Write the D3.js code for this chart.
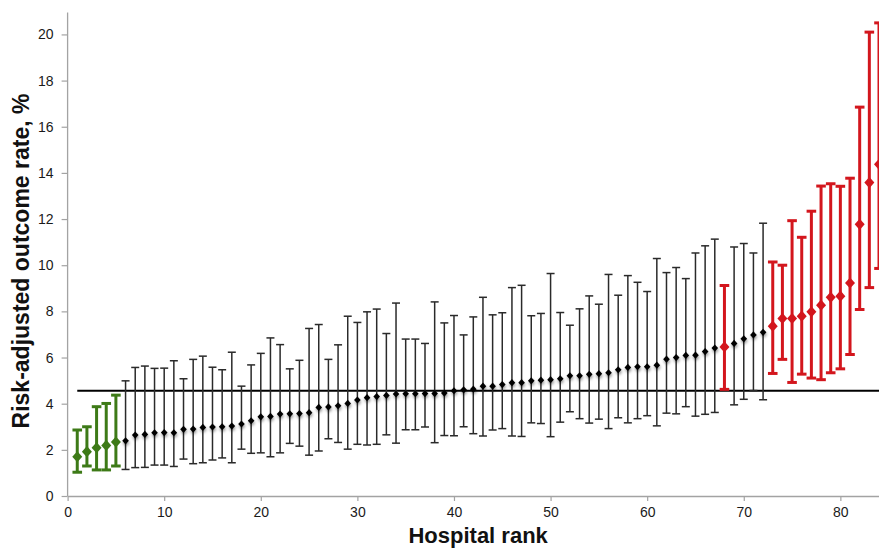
<!DOCTYPE html>
<html>
<head>
<meta charset="utf-8">
<script src="https://cdn.jsdelivr.net/npm/d3@7"></script>
<style>
  html, body { margin: 0; padding: 0; background: #fff; }
  svg { display: block; font-family: "Liberation Sans", Arial, sans-serif; }
</style>
</head>
<body>
<svg id="chart" width="879" height="548"></svg>
<script>
// ---- data ----
const ranks = d3.range(1, 85);
const rate = [1.70,1.92,2.09,2.19,2.34,2.39,2.64,2.67,2.74,2.75,2.74,2.89,2.90,2.97,2.99,3.00,3.03,3.12,3.26,3.43,
  3.45,3.55,3.56,3.57,3.61,3.84,3.86,3.91,4.01,4.16,
  4.26,4.31,4.36,4.42,4.43,4.43,4.44,4.44,4.46,4.56,
  4.60,4.63,4.76,4.76,4.83,4.91,4.91,4.99,5.02,5.04,
  5.08,5.21,5.21,5.27,5.30,5.34,5.47,5.57,5.60,5.60,
  5.67,5.93,6.00,6.09,6.10,6.26,6.41,6.46,6.61,6.81,
  6.98,7.09,7.36,7.69,7.69,7.79,7.98,8.27,8.61,8.66,
  9.23,11.77,13.58,14.37];
const upper = [2.86,3.00,3.87,4.01,4.37,4.99,5.57,5.63,5.53,5.54,5.86,5.08,5.92,6.06,5.58,5.47,6.23,4.76,5.68,6.18,
  6.85,6.56,5.51,5.88,7.26,7.43,5.92,6.55,7.79,7.52,
  7.98,8.10,7.04,8.36,6.80,6.80,6.61,8.41,7.50,7.82,
  6.98,7.76,8.61,7.85,7.94,9.03,9.13,7.81,7.91,9.64,
  7.95,7.40,8.11,8.67,8.31,9.60,8.70,9.55,9.26,8.86,
  10.29,9.68,9.90,9.42,10.53,10.84,11.13,9.12,10.79,10.94,
  10.53,11.82,10.14,10.00,11.93,11.21,12.34,13.43,13.53,13.42,
  13.77,16.85,20.10,20.50];
const lower = [1.03,1.30,1.13,1.13,1.30,1.15,1.23,1.24,1.34,1.34,1.28,1.60,1.40,1.44,1.56,1.65,1.44,2.03,1.85,1.87,
  1.70,1.87,2.28,2.16,1.77,1.95,2.48,2.32,2.03,2.24,
  2.21,2.24,2.65,2.29,2.87,2.87,2.99,2.31,2.62,2.61,
  3.00,2.70,2.60,2.86,2.92,2.60,2.58,3.17,3.14,2.57,
  3.20,3.65,3.35,3.16,3.33,2.92,3.39,3.17,3.35,3.48,
  3.04,3.59,3.56,3.87,3.46,3.54,3.62,4.62,3.95,4.19,
  4.57,4.17,5.31,5.92,4.92,5.28,5.11,5.04,5.34,5.51,
  6.13,8.08,9.03,9.86];
const greenRanks = [1,2,3,4,5];
const redRanks = [68,73,74,75,76,77,78,79,80,81,82,83,84];
const benchmark = 4.56;
const xTicks = [0,10,20,30,40,50,60,70,80];
const yTicks = [0,2,4,6,8,10,12,14,16,18,20];

(function () {
// ---- build rows ----
const rows = ranks.map((r, i) => ({
  rank: r, rate: rate[i], lo: lower[i], hi: upper[i],
  group: greenRanks.includes(r) ? "green" : (redRanks.includes(r) ? "red" : "black")
}));

const colors = { green: "#3d7a17", red: "#d3161d", black: "#2a2a2a" };

const svg = d3.select("#chart");
const W = 879, H = 548;
const mLeft = 67.6, mBottom = 496, mTop = 12.5;
const x = d3.scaleLinear().domain([0, 84]).range([mLeft, 879]);
const y = d3.scaleLinear().domain([0, 20.95]).range([mBottom, mTop]);

// defs: shadow
const defs = svg.append("defs");
const f = defs.append("filter").attr("id", "shadow").attr("x", "-100%").attr("y", "-100%").attr("width", "300%").attr("height", "300%");
f.append("feDropShadow").attr("dx", 0.5).attr("dy", 2).attr("stdDeviation", 1.4)
  .attr("flood-color", "#000").attr("flood-opacity", 0.45);

svg.append("rect").attr("width", W).attr("height", H).attr("fill", "#fff");

// axes
const axisColor = "#a3a3a3";
const yAxis = svg.append("g").attr("transform", `translate(${mLeft},0)`)
  .call(d3.axisLeft(y).tickValues(yTicks).tickFormat(d3.format("d")).tickSize(6).tickPadding(8).tickSizeOuter(0));
const xAxis = svg.append("g").attr("transform", `translate(0,${mBottom})`)
  .call(d3.axisBottom(x).tickValues(xTicks).tickFormat(d3.format("d")).tickSize(5).tickPadding(6).tickSizeOuter(0));
[yAxis, xAxis].forEach(g => {
  g.selectAll("path.domain").attr("stroke", axisColor).attr("stroke-width", 1.3);
  g.selectAll(".tick line").attr("stroke", axisColor).attr("stroke-width", 1.2);
  g.selectAll(".tick text").attr("fill", "#1a1a1a").style("font-size", "14px")
    .style("font-family", "'Liberation Sans', Arial, sans-serif");
});
yAxis.select("path.domain").attr("d", `M0,${mBottom}V${mTop}`);

// benchmark line
svg.append("line")
  .attr("x1", x(1)).attr("x2", W)
  .attr("y1", y(benchmark)).attr("y2", y(benchmark))
  .attr("stroke", "#000").attr("stroke-width", 2);

// error bars
const bars = svg.append("g");
const bw = d => d.group === "black" ? 1.5 : 3;
const capHalf = d => d.group === "black" ? 4 : 4.8;
bars.selectAll("line.v").data(rows).join("line").attr("class", "v")
  .attr("x1", d => x(d.rank)).attr("x2", d => x(d.rank))
  .attr("y1", d => y(d.lo)).attr("y2", d => y(d.hi))
  .attr("stroke", d => colors[d.group]).attr("stroke-width", bw);
bars.selectAll("line.ct").data(rows).join("line").attr("class", "ct")
  .attr("x1", d => x(d.rank) - capHalf(d)).attr("x2", d => x(d.rank) + capHalf(d))
  .attr("y1", d => y(d.hi)).attr("y2", d => y(d.hi))
  .attr("stroke", d => colors[d.group]).attr("stroke-width", bw);
bars.selectAll("line.cb").data(rows).join("line").attr("class", "cb")
  .attr("x1", d => x(d.rank) - capHalf(d)).attr("x2", d => x(d.rank) + capHalf(d))
  .attr("y1", d => y(d.lo)).attr("y2", d => y(d.lo))
  .attr("stroke", d => colors[d.group]).attr("stroke-width", bw);

// markers
const diamond = (w, h) => `M0,${-h}L${w},0L0,${h}L${-w},0Z`;
svg.append("g").selectAll("path").data(rows).join("path")
  .attr("transform", d => `translate(${x(d.rank)},${y(d.rate)})`)
  .attr("d", d => d.group === "black" ? diamond(3.3, 3.6) : diamond(5, 5.6))
  .attr("fill", d => d.group === "black" ? "#000" : colors[d.group])
  .attr("filter", d => d.group === "black" ? "url(#shadow)" : null);

// titles
svg.append("text")
  .attr("x", x(42.5)).attr("y", 543)
  .attr("text-anchor", "middle")
  .style("font-size", "22px").style("font-weight", "bold").attr("fill", "#111")
  .text("Hospital rank");
svg.append("text")
  .attr("transform", "translate(29,261) rotate(-90)")
  .attr("text-anchor", "middle")
  .style("font-size", "23px").style("font-weight", "bold").attr("fill", "#111")
  .text("Risk-adjusted outcome rate, %");
})();
</script>
</body>
</html>
